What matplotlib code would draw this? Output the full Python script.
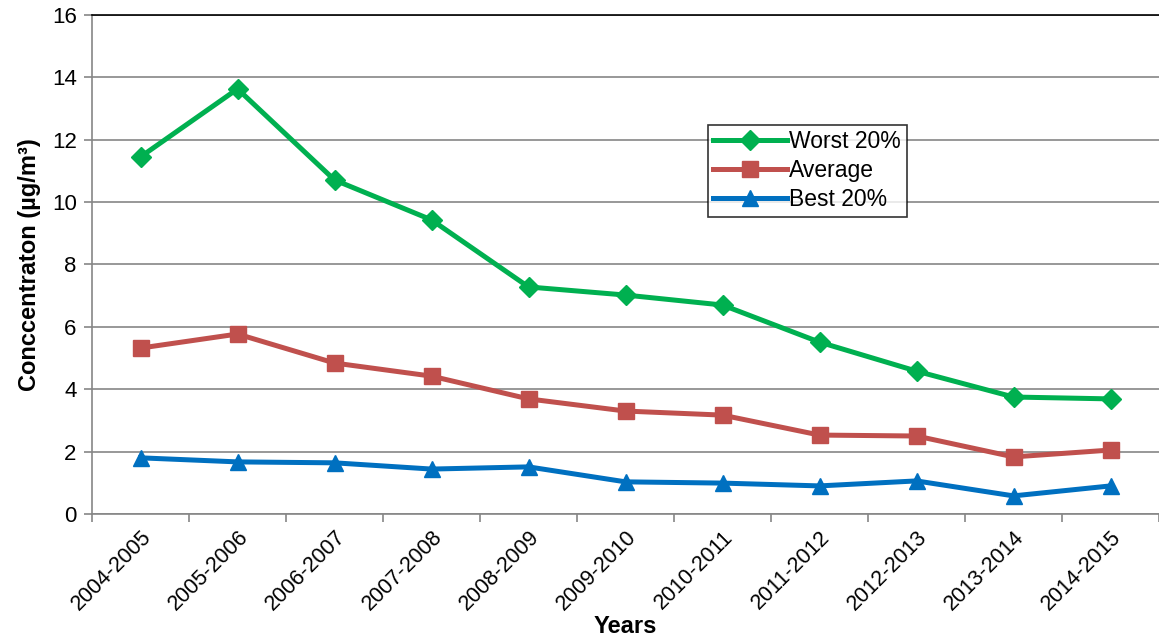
import numpy as np
import matplotlib.pyplot as plt

plt.rcParams['font.family'] = ['Liberation Sans', 'DejaVu Sans']

years = ['2004-2005', '2005-2006', '2006-2007', '2007-2008', '2008-2009', '2009-2010',
         '2010-2011', '2011-2012', '2012-2013', '2013-2014', '2014-2015']
worst = [11.45, 13.63, 10.71, 9.43, 7.28, 7.02, 6.70, 5.51, 4.58, 3.75, 3.69]
average = [5.32, 5.77, 4.84, 4.42, 3.69, 3.30, 3.17, 2.53, 2.50, 1.83, 2.05]
best = [1.80, 1.67, 1.64, 1.44, 1.51, 1.03, 0.99, 0.90, 1.06, 0.58, 0.90]

fig = plt.figure(figsize=(11.59, 6.38), dpi=100)
ax = fig.add_axes([0.0794, 0.1944, 0.9206, 0.7821])

x = np.arange(len(years))
ax.plot(x, worst, color='#00B050', lw=3.6, marker='D', ms=10, label='Worst 20%')
ax.plot(x, average, color='#C0504D', lw=3.6, marker='s', ms=12, label='Average')
ax.plot(x, best, color='#0070C0', lw=3.6, marker='^', ms=12, label='Best 20%')

ax.set_xlim(-0.5, len(years) - 0.5)
ax.set_ylim(0, 16)
ax.set_yticks(np.arange(0, 17, 2))
ax.yaxis.grid(True, color='#868686', lw=1.2)
ax.set_axisbelow(True)

ax.set_xticks(x)
ax.set_xticklabels(years, rotation=45, ha='right', rotation_mode='anchor', fontsize=15.5)
ax.set_xticks(np.arange(-0.5, len(years), 1), minor=True)
ax.tick_params(axis='x', which='major', length=0, pad=9)
ax.tick_params(axis='x', which='minor', length=6, color='#868686', width=1.2)
ax.tick_params(axis='y', labelsize=16, length=6, color='#868686', width=1.2, pad=5)

for s in ['left', 'bottom']:
    ax.spines[s].set_color('#868686')
    ax.spines[s].set_linewidth(1.2)
ax.spines['right'].set_visible(False)
ax.spines['top'].set_color('black')
ax.spines['top'].set_linewidth(1.2)

ax.set_xlabel('Years', fontsize=17, fontweight='bold', labelpad=0)
ax.set_ylabel('Conccentraton (µg/m³)', fontsize=17, fontweight='bold', labelpad=8)

leg = ax.legend(loc='upper left', bbox_to_anchor=(0.577, 0.78), fontsize=16.5,
                frameon=True, fancybox=False, edgecolor='black', handlelength=3.2,
                borderpad=0.25, labelspacing=0.25, handletextpad=0.1, borderaxespad=0)
leg.get_frame().set_linewidth(1.2)

fig.savefig('out.png', dpi=100)
